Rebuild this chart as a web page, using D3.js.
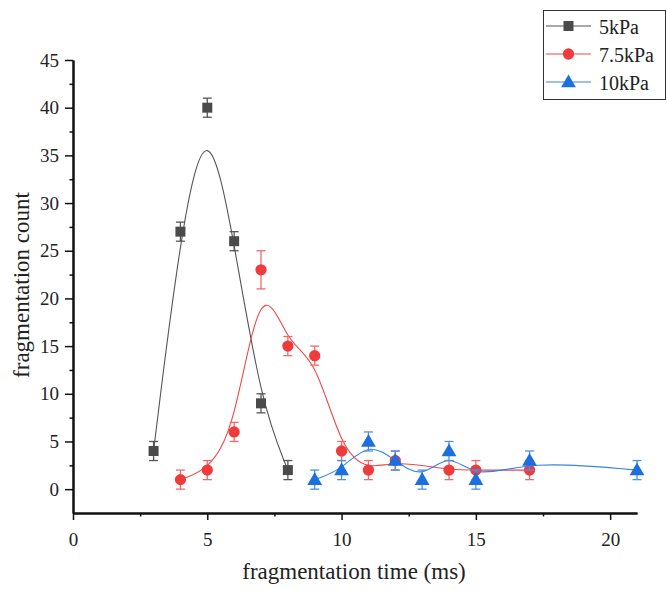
<!DOCTYPE html>
<html>
<head>
<meta charset="utf-8">
<script src="https://cdn.jsdelivr.net/npm/d3@7"></script>
<style>
  html, body { margin: 0; padding: 0; background: #fff; }
  svg { display: block; }
  svg text { font-family: "Liberation Serif", "Times New Roman", Times, "DejaVu Serif", serif; fill: #222; }
</style>
</head>
<body>
<svg id="chart" width="667" height="590"></svg>
<script>
// Fragmentation counts per time step (ms) for each pressure
const series5Time  = [3, 4, 5, 6, 7, 8];
const series5Count = [4, 27, 40, 26, 9, 2];
const series5Err   = [1, 1, 1, 1, 1, 1];

const series75Time  = [4, 5, 6, 7, 8, 9, 10, 11, 12, 14, 15, 17];
const series75Count = [1, 2, 6, 23, 15, 14, 4, 2, 3, 2, 2, 2];
const series75Err   = [1, 1, 1, 2, 1, 1, 1, 1, 1, 1, 1, 1];

const series10Time  = [9, 10, 11, 12, 13, 14, 15, 17, 21];
const series10Count = [1, 2, 5, 3, 1, 4, 1, 3, 2];
const series10Err   = [1, 1, 1, 1, 1, 1, 1, 1, 1];

const seriesNames = ["5kPa", "7.5kPa", "10kPa"];
const xTicks = [0, 5, 10, 15, 20];
const yTicks = [0, 5, 10, 15, 20, 25, 30, 35, 40, 45];

const FONT = '"Liberation Serif", "Times New Roman", Times, "DejaVu Serif", serif';

const styles = [
  { color: "#4a4a4a", line: "#555555", err: "#555555", shape: d3.symbolSquare, size: 100 },
  { color: "#ef3b3b", line: "#f04848", err: "#f06a6a", shape: d3.symbolCircle, size: 100 },
  { color: "#1c6fde", line: "#3a82e2", err: "#4f8fe6", shape: d3.symbolTriangle, size: 95 }
];

function zip(t, c, e) { return t.map((x, i) => ({ x, y: c[i], e: e[i] })); }
const allSeries = [
  zip(series5Time, series5Count, series5Err),
  zip(series75Time, series75Count, series75Err),
  zip(series10Time, series10Count, series10Err)
];

const svg = d3.select("#chart");
const plotLeft = 73, plotRight = 637, plotTop = 60, plotBottom = 513;

const x = d3.scaleLinear().domain([0, 21]).range([plotLeft, plotRight]);
const y = d3.scaleLinear().domain([-2.5, 45]).range([plotBottom, plotTop]);

// Axes: major ticks labelled, minor ticks at half-steps
const xAxis = d3.axisBottom(x).tickValues(xTicks).tickSize(7).tickSizeOuter(0).tickPadding(13);
const xMinor = d3.axisBottom(x).tickValues(d3.range(2.5, 21, 5)).tickSize(3.5).tickFormat("").tickSizeOuter(0);
const yAxis = d3.axisLeft(y).tickValues(yTicks).tickSize(8).tickSizeOuter(0).tickPadding(6);
const yMinor = d3.axisLeft(y).tickValues(d3.range(2.5, 45, 5)).tickSize(3.5).tickFormat("").tickSizeOuter(0);

function styleAxis(g) {
  g.attr("font-family", FONT);
  g.select(".domain").attr("stroke", "#111").attr("stroke-width", 2);
  g.selectAll(".tick line").attr("stroke", "#111").attr("stroke-width", 1.5);
  g.selectAll(".tick text").style("font-family", FONT).style("font-size", "19px").attr("fill", "#333");
}

svg.append("g").attr("transform", `translate(0,${plotBottom})`).call(xMinor).call(styleAxis);
svg.append("g").attr("transform", `translate(0,${plotBottom})`).call(xAxis).call(styleAxis);
svg.append("g").attr("transform", `translate(${plotLeft},0)`).call(yMinor).call(styleAxis);
svg.append("g").attr("transform", `translate(${plotLeft},0)`).call(yAxis).call(styleAxis);

// Axis titles
svg.append("text")
  .attr("x", 354).attr("y", 579)
  .attr("text-anchor", "middle")
  .style("font-family", FONT)
  .style("font-size", "23px")
  .text("fragmentation time (ms)");
svg.append("text")
  .attr("transform", "translate(29,285) rotate(-90)")
  .attr("text-anchor", "middle")
  .style("font-family", FONT)
  .style("font-size", "23px")
  .text("fragmentation count");

// Smoothed B-spline through each series
const line = d3.line().x(d => x(d.x)).y(d => y(d.y)).curve(d3.curveBasis);

allSeries.forEach((data, i) => {
  const s = styles[i];
  const g = svg.append("g");
  g.append("path").datum(data)
    .attr("d", line).attr("fill", "none")
    .attr("stroke", s.line).attr("stroke-width", 1.1);

  // Error bars
  const eb = g.selectAll(".eb").data(data).enter().append("g");
  eb.append("line")
    .attr("x1", d => x(d.x)).attr("x2", d => x(d.x))
    .attr("y1", d => y(d.y - d.e)).attr("y2", d => y(d.y + d.e))
    .attr("stroke", s.err).attr("stroke-width", 1.3);
  [-1, 1].forEach(sign => {
    eb.append("line")
      .attr("x1", d => x(d.x) - 4.5).attr("x2", d => x(d.x) + 4.5)
      .attr("y1", d => y(d.y + sign * d.e)).attr("y2", d => y(d.y + sign * d.e))
      .attr("stroke", s.err).attr("stroke-width", 1.3);
  });

  // Markers
  g.selectAll(".pt").data(data).enter().append("path")
    .attr("transform", d => `translate(${x(d.x)},${y(d.y) + (s.shape === d3.symbolTriangle ? 1 : 0)})`)
    .attr("d", d3.symbol().type(s.shape).size(s.size))
    .attr("fill", s.color);
});

// Legend
const lg = svg.append("g");
lg.append("rect").attr("x", 543.5).attr("y", 10.5).attr("width", 122).attr("height", 89)
  .attr("fill", "#fff").attr("stroke", "#333").attr("stroke-width", 1);
seriesNames.forEach((name, i) => {
  const s = styles[i];
  const cy = 26 + i * 28;
  lg.append("line").attr("x1", 546).attr("x2", 591).attr("y1", cy).attr("y2", cy)
    .attr("stroke", s.line).attr("stroke-width", 1.1);
  lg.append("path").attr("transform", `translate(568.5,${cy + (s.shape === d3.symbolTriangle ? 1 : 0)})`)
    .attr("d", d3.symbol().type(s.shape).size(s.size)).attr("fill", s.color);
  lg.append("text").attr("x", 599).attr("y", cy + 8)
    .style("font-family", FONT).style("font-size", "20px").text(name);
});
</script>
</body>
</html>
